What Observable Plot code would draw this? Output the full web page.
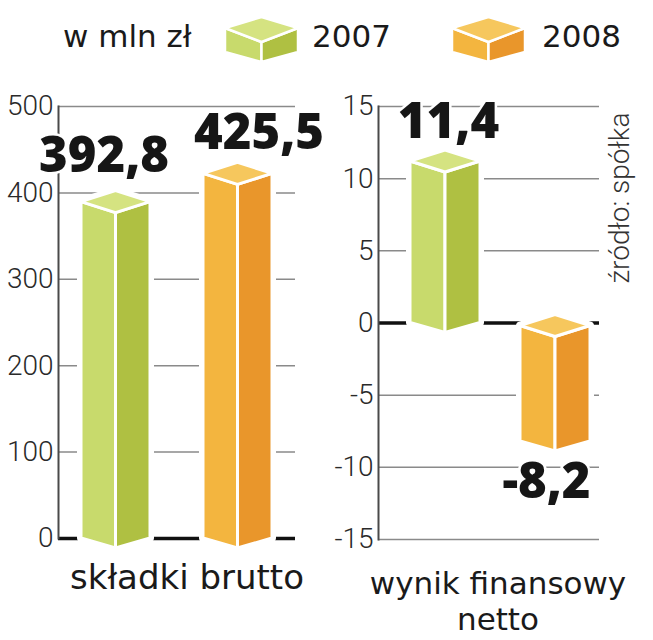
<!DOCTYPE html>
<html>
<head>
<meta charset="utf-8">
<script src="https://cdn.jsdelivr.net/npm/d3@7"></script>
<script src="https://cdn.jsdelivr.net/npm/@observablehq/plot@0.6"></script>
<style>
  html, body { margin: 0; padding: 0; background: #fff; }
  #wrap { position: relative; width: 653px; height: 640px; overflow: hidden; font-family: "DejaVu Sans", sans-serif; }
  #legend { position: absolute; left: 0; top: 0; }
  #left { position: absolute; left: 0; top: 75px; }
  #right { position: absolute; left: 320px; top: 75px; }
</style>
</head>
<body>
<div id="wrap">
  <svg id="legend" width="653" height="75"></svg>
  <div id="left"></div>
  <div id="right"></div>
</div>
<script>
// ---- data ----
const years = ["2007", "2008"];
const unitLabel = "w mln zł";
const premiumLabel = "składki brutto";
const resultLabel = "wynik finansowy\nnetto";
const premiums = [392.8, 425.5];
const netResults = [11.4, -8.2];
const premiumTicks = [0, 100, 200, 300, 400, 500];
const resultTicks = [-15, -10, -5, 0, 5, 10, 15];
const sourceNote = "źródło: spółka";
const topColors = ["#d5e381", "#f6c75d"];
const leftColors = ["#c8da6c", "#f3b53f"];
const rightColors = ["#afc042", "#e9962b"];

const premiumData = years.map((year, i) => ({year, value: premiums[i]}));
const resultData = years.map((year, i) => ({year, value: netResults[i]}));

const FONT = '"DejaVu Sans", sans-serif';
const LIGHT = 'Roboto, "DejaVu Sans", sans-serif';
const BOLD = '"Open Sans", "DejaVu Sans", sans-serif';
const fmt = v => v.toFixed(1).replace(".", ",");

// ---- legend (cube swatches) ----
(function legend() {
  const svg = d3.select("#legend");
  const cube = (g, k) => {
    const w = 73, rh = 11, fr = 25, sb = 35, h = 45;
    const P = a => a.map(p => p.join(",")).join(" ");
    g.append("polygon").attr("points", P([[0,rh],[w/2,fr],[w/2,h],[0,sb]])).attr("fill", leftColors[k]);
    g.append("polygon").attr("points", P([[w/2,fr],[w,rh],[w,sb],[w/2,h]])).attr("fill", rightColors[k]);
    g.append("polygon").attr("points", P([[0,rh],[w/2,0],[w,rh],[w/2,fr]])).attr("fill", topColors[k]);
    g.selectAll("polygon").attr("stroke", "white").attr("stroke-width", 2.5).attr("stroke-linejoin", "round");
  };
  const t = (x, s) => svg.append("text").attr("x", x).attr("y", 47).attr("font-size", 31)
    .attr("font-family", FONT).attr("fill", "#1a1a1a").text(s);
  t(63, unitLabel);
  cube(svg.append("g").attr("transform", "translate(225,17)"), 0);
  t(312, years[0]);
  cube(svg.append("g").attr("transform", "translate(452,17)"), 1);
  t(542, years[1]);
})();

// ---- 3D cube bars drawn through Plot scales ----
function cubeBars(data) {
  return Plot.barY(data, {
    x: "year",
    y: "value",
    render(index, scales) {
      const {x, y} = scales;
      const bw = x.bandwidth();
      const g = d3.create("svg:g");
      const P = a => a.map(p => p.join(",")).join(" ");
      for (const i of index) {
        const d = data[i];
        const k = years.indexOf(d.year);
        const x0 = x(d.year), x1 = x0 + bw, xm = x0 + bw / 2;
        const yv = y(d.value), yz = y(0);
        const sTop = Math.min(yv, yz) + 3, sBot = Math.max(yv, yz);
        const rh = 11, tip = 10;
        g.append("polygon")
          .attr("points", P([[x0, sTop], [xm, sTop - rh], [x1, sTop], [x1, sBot], [xm, sBot + tip], [x0, sBot]]))
          .attr("fill", "white").attr("stroke", "white").attr("stroke-width", 8).attr("stroke-linejoin", "round");
        const faces = [
          [[x0, sTop], [xm, sTop + rh], [xm, sBot + tip], [x0, sBot]],
          [[xm, sTop + rh], [x1, sTop], [x1, sBot], [xm, sBot + tip]],
          [[x0, sTop], [xm, sTop - rh], [x1, sTop], [xm, sTop + rh]]
        ];
        const cols = [leftColors[k], rightColors[k], topColors[k]];
        faces.forEach((f, j) => {
          g.append("polygon").attr("points", P(f)).attr("fill", cols[j])
            .attr("stroke", "white").attr("stroke-width", 3).attr("stroke-linejoin", "round");
        });
      }
      return g.node();
    }
  });
}

const axisStyle = {
  tickSize: 0, tickPadding: 5, fontSize: 28, fontWeight: 300, fontFamily: LIGHT,
  fill: "#2a2a2a", label: null, tickFormat: d => String(d)
};

// value label for one year; dx/dy nudge it clear of the cube top
function valueLabel(data, year, dx, dy) {
  const rows = data.filter(d => d.year === year);
  const neg = rows[0].value < 0;
  return Plot.text(rows, {
    x: "year", y: "value", text: d => fmt(d.value),
    lineAnchor: neg ? "top" : "bottom", dx, dy,
    fontSize: 49, fontWeight: 800, fontFamily: BOLD, fill: "#161616",
    stroke: "white", strokeWidth: 5
  });
}

const premiumPlot = Plot.plot({
  width: 320, height: 565,
  marginLeft: 58, marginRight: 25, marginTop: 31, marginBottom: 102,
  style: {fontFamily: FONT, background: "transparent", overflow: "visible"},
  x: {type: "band", domain: years, paddingInner: 0.431, paddingOuter: 0.179, align: 0.5, axis: null},
  y: {domain: [0, 500], axis: null},
  marks: [
    Plot.ruleY(premiumTicks.filter(t => t !== 0), {stroke: "#8a8a8a", strokeWidth: 1.5}),
    Plot.ruleY([0], {stroke: "#111", strokeWidth: 3.5}),
    Plot.frame({anchor: "left", stroke: "#4a4a4a", strokeWidth: 2}),
    Plot.axisY(premiumTicks, axisStyle),
    cubeBars(premiumData),
    valueLabel(premiumData, "2007", -12, -27),
    valueLabel(premiumData, "2008", 21, -22),
    Plot.text([premiumLabel], {
      frameAnchor: "bottom", dx: 10, dy: 26, lineAnchor: "top",
      fontSize: 34, fill: "#1a1a1a", fontFamily: FONT
    })
  ]
});

const resultPlot = Plot.plot({
  width: 333, height: 565,
  marginLeft: 58, marginRight: 54, marginTop: 31, marginBottom: 101,
  style: {fontFamily: FONT, background: "transparent", overflow: "visible"},
  x: {type: "band", domain: years, paddingInner: 0.3636, paddingOuter: 0.186, align: 0.78, axis: null},
  y: {domain: [-15, 15], axis: null},
  marks: [
    Plot.ruleY(resultTicks.filter(t => t !== 0), {stroke: "#8a8a8a", strokeWidth: 1.5}),
    Plot.ruleY([0], {stroke: "#111", strokeWidth: 3.5}),
    Plot.frame({anchor: "left", stroke: "#4a4a4a", strokeWidth: 2}),
    Plot.axisY(resultTicks, axisStyle),
    cubeBars(resultData),
    valueLabel(resultData, "2007", 3, -20),
    valueLabel(resultData, "2008", -9, 22),
    Plot.text([resultLabel], {
      frameAnchor: "bottom", dx: 9, dy: 29, lineAnchor: "top", lineHeight: 1.16,
      fontSize: 31, fill: "#1a1a1a", fontFamily: FONT
    }),
    Plot.text([sourceNote], {
      frameAnchor: "top-right", rotate: -90, textAnchor: "end", lineAnchor: "middle",
      dx: 21, dy: 6, fontSize: 28, fontWeight: 300, fill: "#333", fontFamily: LIGHT
    })
  ]
});

document.getElementById("left").appendChild(premiumPlot);
document.getElementById("right").appendChild(resultPlot);
</script>
</body>
</html>
